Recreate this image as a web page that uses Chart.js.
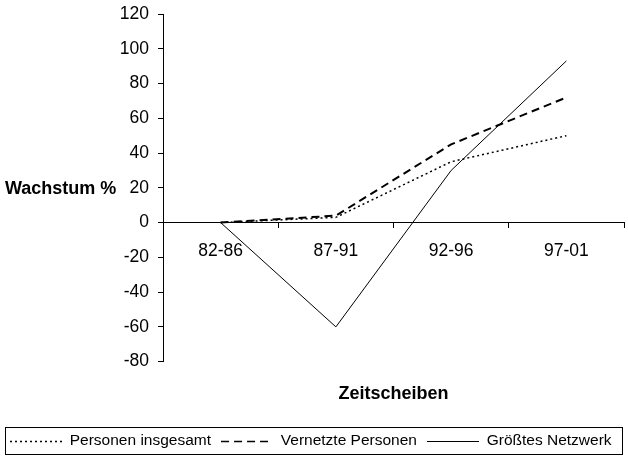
<!DOCTYPE html>
<html>
<head>
<meta charset="utf-8">
<script src="https://cdn.jsdelivr.net/npm/chart.js@4/dist/chart.umd.min.js"></script>
<style>
  html, body { margin: 0; padding: 0; background: #fff; }
  #wrap { width: 628px; height: 461px; }
</style>
</head>
<body>
<div id="wrap"><canvas id="chart" width="628" height="461"></canvas></div>
<script>
// Zeitscheiben (x categories)
const periods = ['82-86', '87-91', '92-96', '97-01'];

// Wachstum in %
const personenInsgesamt = [0, 3, 35, 50];
const vernetztePersonen = [0, 4, 45, 72];
const groesstesNetzwerk = [0, -60, 30, 93];

const yMin = -80;
const yMax = 120;
const yStep = 20;

const FONT = '"Liberation Sans", Arial, sans-serif';

// small line sample for the legend (point style 'line' ignores dashes)
function legendLine(dash, width) {
  const c = document.createElement('canvas');
  c.width = 52;
  c.height = 8;
  const g = c.getContext('2d');
  g.strokeStyle = '#000';
  g.lineWidth = width;
  g.setLineDash(dash);
  g.beginPath();
  g.moveTo(0, 4.5);
  g.lineTo(52, 4.5);
  g.stroke();
  return c;
}

// legend frame + horizontal y title (Chart.js only draws rotated axis titles)
const extras = {
  id: 'extras',
  afterDraw(chart) {
    const ctx = chart.ctx;
    const lg = chart.legend;
    ctx.save();
    ctx.strokeStyle = '#000';
    ctx.lineWidth = 1;
    ctx.strokeRect(5.5, Math.round(lg.top) + 4.5, chart.width - 11, Math.round(lg.height) - 9);
    ctx.fillStyle = '#000';
    ctx.font = 'bold 18px ' + FONT;
    ctx.textBaseline = 'middle';
    ctx.textAlign = 'left';
    ctx.fillText('Wachstum %', 5, 189);
    ctx.restore();
  }
};

new Chart(document.getElementById('chart'), {
  type: 'line',
  data: {
    labels: periods,
    datasets: [
      {
        label: 'Personen insgesamt',
        data: personenInsgesamt,
        borderColor: '#000',
        backgroundColor: '#000',
        borderWidth: 1.5,
        borderDash: [2, 3],
        pointRadius: 0,
        pointStyle: legendLine([2, 3], 1.5),
        tension: 0
      },
      {
        label: 'Vernetzte Personen',
        data: vernetztePersonen,
        borderColor: '#000',
        backgroundColor: '#000',
        borderWidth: 2,
        borderDash: [8, 5],
        pointRadius: 0,
        pointStyle: legendLine([8, 5], 1.5),
        tension: 0
      },
      {
        label: 'Größtes Netzwerk',
        data: groesstesNetzwerk,
        borderColor: '#000',
        backgroundColor: '#000',
        borderWidth: 1,
        pointRadius: 0,
        pointStyle: legendLine([], 1),
        tension: 0
      }
    ]
  },
  options: {
    responsive: false,
    animation: false,
    layout: { padding: { top: 14, left: 0, right: 4, bottom: 2.25 } },
    font: { family: FONT },
    color: '#000',
    plugins: {
      tooltip: { enabled: false },
      legend: {
        position: 'bottom',
        align: 'start',
        labels: {
          usePointStyle: true,
          pointStyleWidth: 52,
          padding: 10,
          color: '#000',
          font: { size: 15.5, family: FONT }
        }
      }
    },
    scales: {
      x: {
        type: 'category',
        position: { y: 0 },
        offset: true,
        grid: { drawOnChartArea: false, tickLength: 5, color: '#000', offset: true },
        border: { color: '#000' },
        ticks: { color: '#000', padding: 13.5, font: { size: 17.5, family: FONT }, maxRotation: 0 }
      },
      x2: {
        type: 'category',
        position: 'bottom',
        labels: periods,
        grid: { display: false, drawTicks: false },
        border: { display: false },
        ticks: { display: false },
        title: {
          display: true,
          text: 'Zeitscheiben',
          color: '#000',
          font: { size: 18, weight: 'bold', family: FONT },
          padding: { top: 22, bottom: 18 }
        }
      },
      y: {
        min: yMin,
        max: yMax,
        afterFit(scale) {
          scale.width = 163;
          scale.paddingTop = 0;
          scale.paddingBottom = 0;
        },
        grid: { drawOnChartArea: false, tickLength: 5, color: '#000' },
        border: { color: '#000' },
        ticks: { stepSize: yStep, color: '#000', padding: 9, font: { size: 17.5, family: FONT } }
      }
    }
  },
  plugins: [extras]
});
</script>
</body>
</html>
